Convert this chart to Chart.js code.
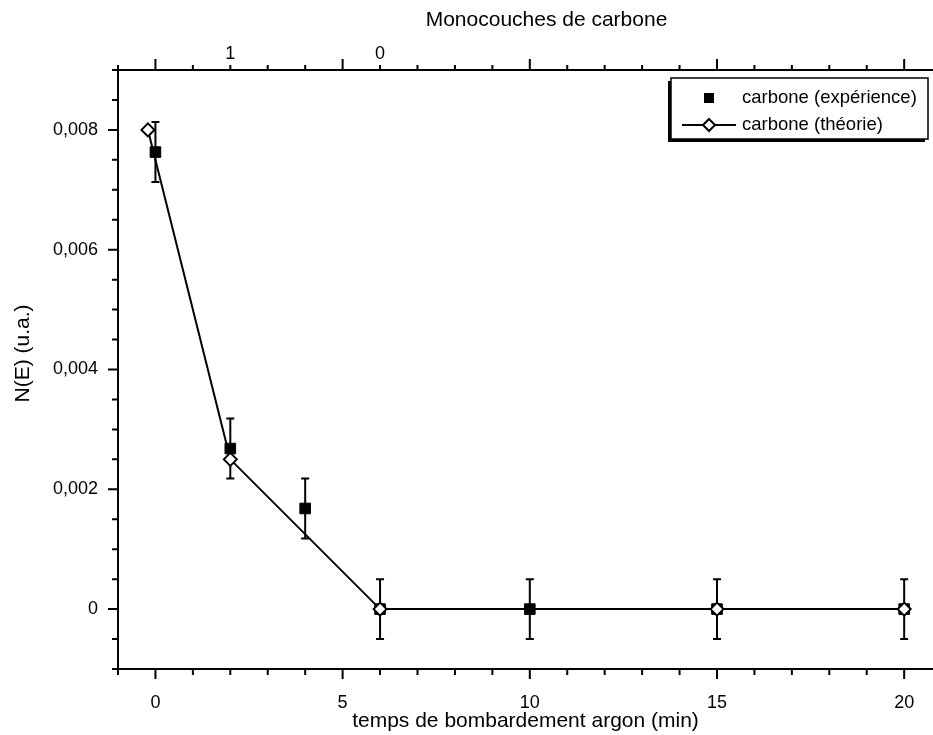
<!DOCTYPE html>
<html lang="fr">
<head>
  <meta charset="UTF-8">
  <title>Carbone - bombardement argon</title>
  <script src="https://cdn.jsdelivr.net/npm/chart.js@4"></script>
  <style>
    html, body { margin: 0; padding: 0; background: #fff; overflow: hidden; }
    #wrap { position: relative; width: 933px; height: 735px; }
  </style>
</head>
<body>
  <div id="wrap"><canvas id="chart"></canvas></div>

  <script>
    // données expérimentales (temps en min, N(E) en u.a.)
    const expTime = [0, 2, 4, 6, 10, 15, 20];
    const expValue = [0.00763, 0.00268, 0.00168, 0, 0, 0, 0];
    const expError = [0.0005, 0.0005, 0.0005, 0.0005, 0.0005, 0.0005, 0.0005];

    // courbe théorique
    const theoTime = [-0.2, 2, 6, 15, 20];
    const theoValue = [0.008, 0.0025, 0, 0, 0];

    // graduations
    const xTicks = [0, 5, 10, 15, 20];
    const yTicks = [0, 0.002, 0.004, 0.006, 0.008];
    const yTickLabels = ['0', '0,002', '0,004', '0,006', '0,008'];
    const topTicks = [2, 6];
    const topTickLabels = ['1', '0'];

    const seriesLabels = ['carbone (expérience)', 'carbone (théorie)'];
    const topTitle = 'Monocouches de carbone';
    const yTitle = 'N(E) (u.a.)';

    Chart.defaults.font.family = "'Liberation Sans', Arial, sans-serif";
    Chart.defaults.font.size = 18;
    Chart.defaults.color = '#000';

    const FAMILY = "'Liberation Sans', Arial, sans-serif";

    // barres d'erreur sous les points
    const errorBars = {
      id: 'errorBars',
      beforeDatasetsDraw(chart) {
        const { ctx, scales: { x, y } } = chart;
        ctx.save();
        ctx.strokeStyle = '#000';
        ctx.lineWidth = 2;
        expTime.forEach((t, i) => {
          const px = x.getPixelForValue(t);
          const top = y.getPixelForValue(expValue[i] + expError[i]);
          const bot = y.getPixelForValue(expValue[i] - expError[i]);
          ctx.beginPath();
          ctx.moveTo(px, top); ctx.lineTo(px, bot);
          ctx.moveTo(px - 4, top); ctx.lineTo(px + 4, top);
          ctx.moveTo(px - 4, bot); ctx.lineTo(px + 4, bot);
          ctx.stroke();
        });
        ctx.restore();
      }
    };

    // petites et grandes graduations
    const tickMarks = {
      id: 'tickMarks',
      afterDraw(chart) {
        const { ctx, scales: { x, y } } = chart;
        const area = chart.chartArea;
        ctx.save();
        ctx.strokeStyle = '#000';
        ctx.lineWidth = 2;
        ctx.beginPath();
        for (let v = Math.ceil(x.min); v <= x.max; v++) {
          const px = x.getPixelForValue(v);
          const len = v % 5 === 0 ? 10 : 6;
          ctx.moveTo(px, area.bottom); ctx.lineTo(px, area.bottom + len);
          ctx.moveTo(px, area.top); ctx.lineTo(px, area.top - (v % 5 === 0 ? 11 : 5));
        }
        for (let k = Math.round(y.min / 0.0005); k * 0.0005 <= y.max + 1e-9; k++) {
          const py = y.getPixelForValue(k * 0.0005);
          const len = k % 4 === 0 ? 10 : 6;
          ctx.moveTo(area.left, py); ctx.lineTo(area.left - len, py);
        }
        ctx.stroke();
        ctx.restore();
      }
    };

    // titres du haut et de gauche
    const sideTitles = {
      id: 'sideTitles',
      afterDraw(chart) {
        const { ctx } = chart;
        const area = chart.chartArea;
        ctx.save();
        ctx.fillStyle = '#000';
        ctx.font = '21px ' + FAMILY;
        ctx.textAlign = 'center';
        ctx.textBaseline = 'middle';
        ctx.fillText(topTitle, (area.left + area.right) / 2 + 21, 20);
        ctx.translate(23, (area.top + area.bottom) / 2 - 16);
        ctx.rotate(-Math.PI / 2);
        ctx.fillText(yTitle, 0, 0);
        ctx.restore();
      }
    };

    // légende encadrée avec ombre
    const boxLegend = {
      id: 'boxLegend',
      afterDraw(chart) {
        const { ctx } = chart;
        const area = chart.chartArea;
        const bx = area.right - 262, by = area.top + 8, bw = 257, bh = 61;
        ctx.save();
        ctx.fillStyle = '#000';
        ctx.fillRect(bx - 3, by + 3, bw, bh);
        ctx.fillStyle = '#fff';
        ctx.fillRect(bx, by, bw, bh);
        ctx.strokeStyle = '#000';
        ctx.lineWidth = 1.5;
        ctx.strokeRect(bx, by, bw, bh);

        const sx = bx + 38, r1 = by + 20, r2 = by + 47;
        ctx.fillStyle = '#000';
        ctx.fillRect(sx - 5, r1 - 5, 10, 10);

        ctx.lineWidth = 2;
        ctx.beginPath();
        ctx.moveTo(bx + 11, r2); ctx.lineTo(bx + 65, r2);
        ctx.stroke();
        ctx.beginPath();
        ctx.moveTo(sx, r2 - 6); ctx.lineTo(sx + 6, r2); ctx.lineTo(sx, r2 + 6); ctx.lineTo(sx - 6, r2);
        ctx.closePath();
        ctx.fillStyle = '#fff';
        ctx.fill();
        ctx.stroke();

        ctx.fillStyle = '#000';
        ctx.font = '18.5px ' + FAMILY;
        ctx.textBaseline = 'middle';
        ctx.fillText(seriesLabels[0], bx + 71, r1);
        ctx.fillText(seriesLabels[1], bx + 71, r2);
        ctx.restore();
      }
    };

    new Chart(document.getElementById('chart'), {
      type: 'scatter',
      data: {
        datasets: [
          {
            label: seriesLabels[1],
            data: theoTime.map((t, i) => ({ x: t, y: theoValue[i] })),
            showLine: true,
            borderColor: '#000',
            borderWidth: 2,
            pointStyle: 'rectRot',
            pointRadius: 6.5,
            pointBackgroundColor: '#fff',
            pointBorderColor: '#000',
            pointBorderWidth: 2,
            clip: false
          },
          {
            label: seriesLabels[0],
            data: expTime.map((t, i) => ({ x: t, y: expValue[i] })),
            showLine: false,
            pointStyle: 'rect',
            pointRadius: 7.5,
            pointBackgroundColor: '#000',
            pointBorderColor: '#000',
            pointBorderWidth: 1,
            clip: false
          }
        ]
      },
      options: {
        responsive: true,
        maintainAspectRatio: false,
        animation: false,
        layout: { padding: 0, autoPadding: false },
        plugins: {
          legend: { display: false },
          tooltip: { enabled: false }
        },
        scales: {
          x: {
            type: 'linear',
            position: 'bottom',
            min: -1,
            max: 20.77,
            afterBuildTicks: s => { s.ticks = xTicks.map(v => ({ value: v })); },
            afterFit: s => { s.height = 66; },
            ticks: { padding: 0, callback: v => String(v) },
            grid: { drawOnChartArea: false, drawTicks: true, tickLength: 23, tickColor: 'transparent' },
            border: { display: true, color: '#000', width: 2 },
            title: {
              display: true,
              text: 'temps de bombardement argon (min)',
              font: { size: 21 },
              padding: { top: 0, bottom: 1 }
            }
          },
          x2: {
            type: 'linear',
            position: 'top',
            min: -1,
            max: 20.77,
            afterBuildTicks: s => { s.ticks = topTicks.map(v => ({ value: v })); },
            afterFit: s => { s.height = 70; },
            ticks: { padding: 0, callback: v => topTickLabels[topTicks.indexOf(v)] },
            grid: { drawOnChartArea: false, drawTicks: true, tickLength: 5, tickColor: 'transparent' },
            border: { display: true, color: '#000', width: 2 }
          },
          y: {
            type: 'linear',
            position: 'left',
            min: -0.001,
            max: 0.009,
            afterBuildTicks: s => { s.ticks = yTicks.map(v => ({ value: v })); },
            afterFit: s => { s.width = 118; },
            ticks: { padding: 0, callback: v => yTickLabels[yTicks.indexOf(v)] },
            grid: { drawOnChartArea: false, drawTicks: true, tickLength: 20, tickColor: 'transparent' },
            border: { display: true, color: '#000', width: 2 }
          }
        }
      },
      plugins: [errorBars, tickMarks, sideTitles, boxLegend]
    });
  </script>
</body>
</html>
